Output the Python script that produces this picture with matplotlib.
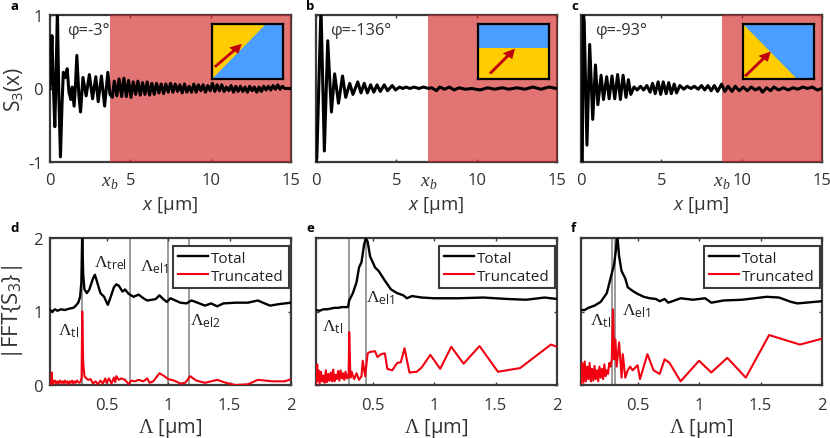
import matplotlib
matplotlib.use('Agg')
import matplotlib.pyplot as plt
from matplotlib.patches import Polygon, FancyArrow

plt.rcParams.update({
    'font.family': 'Open Sans', 'mathtext.fontset': 'custom',
    'mathtext.rm': 'Open Sans', 'mathtext.it': 'Open Sans:italic',
    'mathtext.cal': 'Liberation Serif', 'mathtext.bf': 'Liberation Serif:italic',
    'axes.unicode_minus': False,
})

# ---------- data ----------
a_x = [0,0.04,0.12,0.2,0.3,0.38,0.46,0.55,0.65,0.75,0.83,0.95,1.07,1.18,1.3,1.38,1.5,1.58,1.67,1.8,1.9,2.05,2.25,2.45,2.65,2.85,3.0,3.2,3.4,3.6,3.73,
       3.88,4.0,4.16,4.3,4.46,4.6,4.75,4.89,5.04,5.18,5.33,5.47,5.62,5.76,5.91,6.05,6.2,6.34,6.49,6.63,6.78,6.92,7.07,7.21,7.36,7.5,7.65,7.79,7.94,8.08,8.23,8.37,8.52,8.66,8.81,8.95,9.1,9.24,9.39,9.53,9.68,9.82,9.97,10.11,10.26,10.4,10.55,10.69,10.84,10.98,11.13,11.27,11.42,11.56,11.71,11.85,12.0,12.14,12.29,12.43,12.58,12.72,12.87,13.01,13.16,13.3,13.45,13.59,13.74,13.88,14.03,14.17,14.32,14.46,14.61,14.75,15]
a_y = [0,0.2,0.72,0.1,-0.52,0.2,1.05,-0.1,-0.93,-0.2,0.22,0.15,0.27,-0.05,-0.15,0.02,-0.24,0.02,0.45,-0.1,-0.32,0.15,-0.1,0.19,-0.14,0.16,-0.18,0.17,-0.24,0.22,-0.08,
       -0.12,0.1,-0.1,0.13,-0.11,0.14,-0.11,0.11,-0.12,0.09,-0.08,0.1,-0.09,0.08,-0.08,0.09,-0.09,0.07,-0.08,0.07,-0.06,0.06,-0.07,0.06,-0.05,0.07,-0.05,0.06,-0.04,0.05,-0.06,0.06,-0.05,0.03,-0.05,0.06,-0.05,0.05,-0.03,0.05,-0.05,0.04,-0.03,0.07,-0.04,0.05,-0.03,0.05,-0.04,0.02,-0.03,0.04,-0.05,0.03,-0.04,0.03,-0.04,0.02,-0.05,0.03,-0.03,0.02,-0.05,0.02,-0.04,0.03,-0.02,0.03,-0.02,0.04,-0.01,0.05,-0.01,0.03,0.0,0.0,0.0]

b_x = [0,0.05,0.31,0.52,0.73,0.96,1.16,1.4,1.65,1.85,2.1,2.3,2.6,2.8,3.0,3.2,3.4,3.6,3.8,4.0,4.25,4.45,4.75,4.95,5.2,5.4,5.6,5.85,6.1,6.4,6.7,7.0,7.2,7.5,7.7,8.0,8.3,8.6,8.9,9.3,9.7,10.2,10.7,11.1,11.6,12.0,12.5,13.0,13.5,14.0,14.5,15]
b_y = [-1.0,-0.95,1.1,-0.85,0.65,-0.32,0.2,-0.2,0.17,-0.12,0.07,-0.08,0.09,-0.06,0.07,-0.06,0.05,-0.05,0.05,-0.04,0.05,-0.03,0.04,-0.02,0.02,0.0,0.02,0.0,0.02,0.0,0.02,0.0,0.01,-0.03,0.02,-0.01,0.02,-0.02,0.01,-0.01,0.0,-0.02,0.01,-0.01,0.01,-0.01,0.01,-0.01,0.02,-0.01,0.02,0.0]

c_x = [0.08,0.14,0.2,0.37,0.54,0.73,0.9,1.05,1.25,1.4,1.6,1.75,1.93,2.1,2.28,2.45,2.62,2.8,2.95,3.1,3.3,3.5,3.7,3.9,4.1,4.3,4.45,4.62,4.8,4.96,5.12,5.3,5.46,5.62,5.8,5.95,6.15,6.4,6.6,6.85,7.05,7.3,7.5,7.7,7.9,8.1,8.3,8.5,8.75,8.95,9.15,9.4,9.6,9.85,10.1,10.35,10.6,10.85,11.1,11.3,11.55,11.8,12.0,12.3,12.6,12.9,13.2,13.5,13.8,14.1,14.4,14.7,15]
c_y = [-1.0,1.05,0.9,-0.77,0.6,-0.42,0.32,-0.22,0.18,-0.15,0.16,-0.14,0.17,-0.14,0.19,-0.15,0.18,-0.12,0.12,-0.08,0.02,-0.02,0.03,-0.02,0.04,-0.05,0.07,-0.07,0.09,-0.08,0.09,-0.07,0.08,-0.07,0.06,-0.06,0.04,-0.01,0.03,0.0,0.03,-0.01,0.04,-0.02,0.04,-0.03,0.04,-0.04,0.06,-0.04,0.03,-0.04,0.03,-0.03,0.02,-0.03,0.02,-0.02,0.01,-0.05,0.01,-0.03,0.02,-0.02,0.01,-0.02,0.01,-0.01,0.02,0.0,0.02,-0.02,0.0]

d_tx = [0.04,0.06,0.08,0.1,0.13,0.16,0.2,0.23,0.25,0.27,0.285,0.295,0.302,0.31,0.32,0.34,0.36,0.39,0.405,0.42,0.45,0.48,0.51,0.53,0.56,0.58,0.6,0.63,0.65,0.68,0.72,0.76,0.8,0.83,0.87,0.9,0.93,0.96,0.99,1.02,1.06,1.1,1.15,1.19,1.24,1.3,1.35,1.4,1.45,1.55,1.65,1.73,1.8,1.83,1.9,2.0]
d_ty = [1.02,1.0,1.03,1.01,1.03,1.02,1.04,1.05,1.08,1.12,1.2,1.4,2.05,1.5,1.3,1.25,1.3,1.45,1.5,1.42,1.25,1.2,1.09,1.18,1.33,1.37,1.35,1.27,1.3,1.24,1.2,1.23,1.18,1.15,1.16,1.17,1.22,1.17,1.13,1.18,1.15,1.12,1.11,1.15,1.12,1.08,1.11,1.07,1.11,1.12,1.12,1.15,1.1,1.08,1.1,1.12]
d_rx = [0.04,0.05,0.055,0.06,0.065,0.07,0.08,0.09,0.1,0.11,0.12,0.13,0.14,0.15,0.16,0.17,0.18,0.19,0.2,0.21,0.22,0.23,0.24,0.25,0.26,0.27,0.28,0.29,0.297,0.302,0.31,0.32,0.33,0.35,0.37,0.39,0.41,0.43,0.45,0.47,0.49,0.5,0.52,0.54,0.56,0.57,0.58,0.6,0.62,0.65,0.68,0.7,0.73,0.76,0.8,0.83,0.85,0.88,0.93,0.97,1.0,1.05,1.1,1.14,1.18,1.23,1.3,1.4,1.47,1.55,1.65,1.73,1.85,1.95,2.0]
d_ry = [0.02,0.06,0.17,0.01,0.05,0.03,0.06,0.02,0.05,0.02,0.06,0.03,0.05,0.02,0.06,0.03,0.05,0.01,0.05,0.03,0.06,0.02,0.05,0.03,0.06,0.04,0.03,0.05,0.1,1.0,0.3,0.12,0.1,0.07,0.08,0.02,0.05,0.01,0.06,0.02,0.09,0.03,0.09,0.02,0.1,0.04,0.12,0.07,0.09,0.07,0.01,0.06,0.05,0.07,0.05,0.09,0.03,0.05,0.16,0.12,0.08,0.06,0.02,0.03,0.12,0.06,0.03,0.07,0.03,0.0,0.01,0.07,0.05,0.05,0.08]

e_tx = [0.04,0.07,0.1,0.13,0.16,0.19,0.22,0.25,0.3,0.31,0.34,0.37,0.39,0.41,0.43,0.445,0.46,0.48,0.52,0.55,0.6,0.65,0.7,0.75,0.78,0.82,0.9,1.0,1.2,1.4,1.6,1.75,1.9,2.0]
e_ty = [1.02,1.01,1.03,1.03,1.04,1.05,1.05,1.06,1.06,1.15,1.25,1.4,1.6,1.67,1.9,2.0,1.95,1.75,1.6,1.55,1.42,1.3,1.25,1.22,1.18,1.21,1.19,1.18,1.18,1.19,1.17,1.16,1.19,1.17]
e_rx = [0.04,0.05,0.055,0.06,0.07,0.08,0.09,0.1,0.11,0.12,0.13,0.14,0.15,0.16,0.17,0.18,0.19,0.2,0.21,0.22,0.23,0.24,0.25,0.26,0.27,0.28,0.29,0.3,0.305,0.31,0.32,0.33,0.35,0.37,0.39,0.41,0.42,0.44,0.46,0.48,0.52,0.54,0.57,0.6,0.62,0.66,0.7,0.73,0.76,0.8,0.86,0.9,0.97,1.05,1.14,1.24,1.37,1.52,1.7,1.95,2.0]
e_ry = [0.02,0.28,0.05,0.2,0.02,0.18,0.05,0.13,0.03,0.2,0.04,0.15,0.06,0.17,0.05,0.21,0.05,0.14,0.08,0.19,0.06,0.2,0.09,0.16,0.07,0.18,0.09,0.13,0.1,0.72,0.1,0.18,0.08,0.16,0.07,0.12,0.33,0.12,0.43,0.45,0.46,0.38,0.42,0.43,0.22,0.2,0.3,0.31,0.5,0.17,0.18,0.24,0.41,0.22,0.52,0.29,0.53,0.18,0.23,0.55,0.52]

f_tx = [0.04,0.07,0.1,0.15,0.2,0.25,0.28,0.3,0.31,0.325,0.335,0.35,0.37,0.4,0.42,0.46,0.5,0.55,0.6,0.65,0.68,0.72,0.75,0.8,0.85,0.95,1.05,1.1,1.2,1.35,1.55,1.65,1.75,1.8,2.0]
f_ty = [1.02,1.02,1.05,1.08,1.13,1.25,1.45,1.58,1.65,1.85,2.05,1.75,1.55,1.45,1.33,1.28,1.24,1.2,1.18,1.17,1.14,1.17,1.12,1.15,1.18,1.16,1.18,1.12,1.15,1.16,1.2,1.19,1.13,1.11,1.14]
f_rx = [0.04,0.05,0.06,0.07,0.08,0.09,0.1,0.11,0.12,0.13,0.14,0.15,0.16,0.17,0.18,0.19,0.2,0.21,0.22,0.23,0.24,0.25,0.26,0.27,0.28,0.29,0.3,0.31,0.32,0.33,0.35,0.37,0.38,0.4,0.42,0.44,0.46,0.5,0.52,0.58,0.63,0.68,0.72,0.76,0.85,1.0,1.1,1.23,1.38,1.57,1.82,2.0]
f_ry = [0.02,0.3,0.03,0.32,0.05,0.25,0.08,0.3,0.05,0.22,0.06,0.26,0.08,0.2,0.05,0.25,0.1,0.22,0.08,0.28,0.12,0.2,0.15,0.3,0.25,0.35,1.03,0.35,0.62,0.25,0.58,0.1,0.42,0.1,0.2,0.25,0.2,0.27,0.08,0.42,0.2,0.15,0.35,0.3,0.05,0.33,0.17,0.37,0.1,0.68,0.55,0.63]

top_labels = ['a', 'b', 'c']
bot_labels = ['d', 'e', 'f']
phi_labels = ['φ=-3°', 'φ=-136°', 'φ=-93°']
xb_vals = [3.73, 7.0, 8.75]
top_ticks = [0, 5, 10, 15]
vlines = [[0.3, 0.69, 1.0, 1.17], [0.31, 0.45], [0.29, 0.32]]
annots = [[('tl', 0.105, 0.75), ('trel', 0.4, 1.67), ('el1', 0.77, 1.62), ('el2', 1.18, 0.88)],
          [('tl', 0.09, 0.8), ('el1', 0.45, 1.2)],
          [('tl', 0.11, 0.88), ('el1', 0.37, 1.02)]]
top_data = [(a_x, a_y), (b_x, b_y), (c_x, c_y)]
bot_data = [(d_tx, d_ty, d_rx, d_ry), (e_tx, e_ty, e_rx, e_ry), (f_tx, f_ty, f_rx, f_ry)]

W, H = 830, 439
fig = plt.figure(figsize=(W/100, H/100), dpi=100)

def mkax(l, t, r, b):
    return fig.add_axes([l/W, 1-b/H, (r-l)/W, (b-t)/H])

lefts = [50, 316, 581]
letter_x = [10, 306, 571]
GREY = '#3a3a3a'
TXT = '#333333'
FS = 12

def style(ax, pad):
    for s in ax.spines.values():
        s.set_linewidth(1.6); s.set_color(GREY)
    ax.tick_params(direction='in', length=2.5, width=1.0, color=GREY, labelsize=FS,
                   top=True, right=True, labelcolor=TXT, pad=pad)

insets = [
    ([(0, 0), (0, 1), (0.76, 1)], (0.04, 0.22), (0.42, 0.64)),
    ([(0, 0), (0, 0.56), (1, 0.56), (1, 0)], (0.17, 0.1), (0.52, 0.55)),
    ([(0, 1), (0, 0), (0.76, 0)], (0.03, 0.05), (0.39, 0.5)),
]

for i in range(3):
    l = lefts[i]
    ax = mkax(l, 16, l+241, 163)
    style(ax, 7.5)
    ax.tick_params(axis='y', pad=5)
    x, y = top_data[i]
    ax.axvspan(xb_vals[i], 15, color='#d42a2a', alpha=0.65, lw=0, zorder=3)
    ax.plot(x, y, color='k', lw=2.2, zorder=4, solid_joinstyle='round')
    ax.set_xlim(0, 15); ax.set_ylim(-1, 1)
    ax.set_xticks(top_ticks)
    ax.set_yticks([-1, 0, 1])
    if i == 0:
        ax.set_yticklabels(['-1', '0', '1'])
        ax.set_ylabel(r'S$_3$(x)', fontsize=15, color=TXT, va='center')
        ax.yaxis.set_label_coords(-0.15, 0.5)
    else:
        ax.set_yticklabels([])
    ax.set_xlabel(r'$x$ [µm]', fontsize=13.5, color=TXT, va='center')
    ax.xaxis.set_label_coords(0.5, -0.29)
    ax.text(xb_vals[i], -1.26, r'$\mathbf{x}_{\mathbf{b}}$', ha='center', va='center', fontsize=14, color=TXT, zorder=6)
    fig.text(letter_x[i]/W, 1-7/H, top_labels[i], fontweight='bold', fontsize=9.5, ha='left', va='center')
    ax.text(0.07 if i == 0 else 0.058, 0.9, phi_labels[i], transform=ax.transAxes,
            fontsize=11.8, va='center', color=TXT, zorder=6)

    ins_l = [212, 478, 743][i]
    ia = mkax(ins_l, 25, ins_l+71, 80)
    ia.set_zorder(5)
    ia.set_facecolor('#4A9EFF')
    ia.set_xlim(0, 1); ia.set_ylim(0, 1); ia.set_xticks([]); ia.set_yticks([])
    for s in ia.spines.values():
        s.set_linewidth(1.6); s.set_color('k')
    poly, p0, p1 = insets[i]
    ia.add_patch(Polygon(poly, closed=True, fc='#FFCC00', ec='none'))
    ia.add_patch(FancyArrow(p0[0], p0[1], p1[0]-p0[0], p1[1]-p0[1], width=0.045, head_width=0.17,
                            head_length=0.17, length_includes_head=True, fc='#C00010', ec='none'))

    ax2 = mkax(l, 239, l+241, 386)
    style(ax2, 8.5)
    ax2.tick_params(axis='y', pad=5)
    tx, ty, rx, ry = bot_data[i]
    for v in vlines[i]:
        ax2.axvline(v, color='#808080', lw=1.1, zorder=1)
    ax2.plot(tx, ty, color='k', lw=1.7, label='Total', zorder=3)
    ax2.plot(rx, ry, color='#F00010', lw=1.5, label='Truncated', zorder=3)
    ax2.set_xlim(0.04, 2); ax2.set_ylim(0, 2)
    ax2.set_xticks([0.5, 1, 1.5, 2]); ax2.set_xticklabels(['0.5', '1', '1.5', '2'])
    ax2.set_yticks([0, 1, 2])
    if i == 0:
        ax2.set_ylabel(r'|FFT{S$_3$}|', fontsize=16, color=TXT, va='center')
        ax2.yaxis.set_label_coords(-0.154, 0.5)
    else:
        ax2.set_yticklabels([])
    ax2.set_xlabel(r'$\mathcal{Λ}$ [µm]', fontsize=14.5, color=TXT, va='center')
    ax2.xaxis.set_label_coords(0.5, -0.286)
    for name, xx, yy in annots[i]:
        ax2.text(xx, yy, r'$\mathcal{Λ}_{\mathrm{%s}}$' % name, fontsize=12.5, ha='left', va='center', color='#222222')
    leg = ax2.legend(loc='upper right', bbox_to_anchor=(0.99, 0.945), fontsize=11, fancybox=False,
                     framealpha=1, edgecolor=GREY, borderpad=0.3, labelspacing=0.2,
                     handlelength=2.0, handletextpad=0.2, borderaxespad=0)
    leg.get_frame().set_linewidth(1.5)
    for t in leg.get_texts():
        t.set_color('#222222')
    fig.text(letter_x[i]/W, 1-228/H, bot_labels[i], fontweight='bold', fontsize=9.5, ha='left', va='center')

fig.savefig('out.png', dpi=100)
